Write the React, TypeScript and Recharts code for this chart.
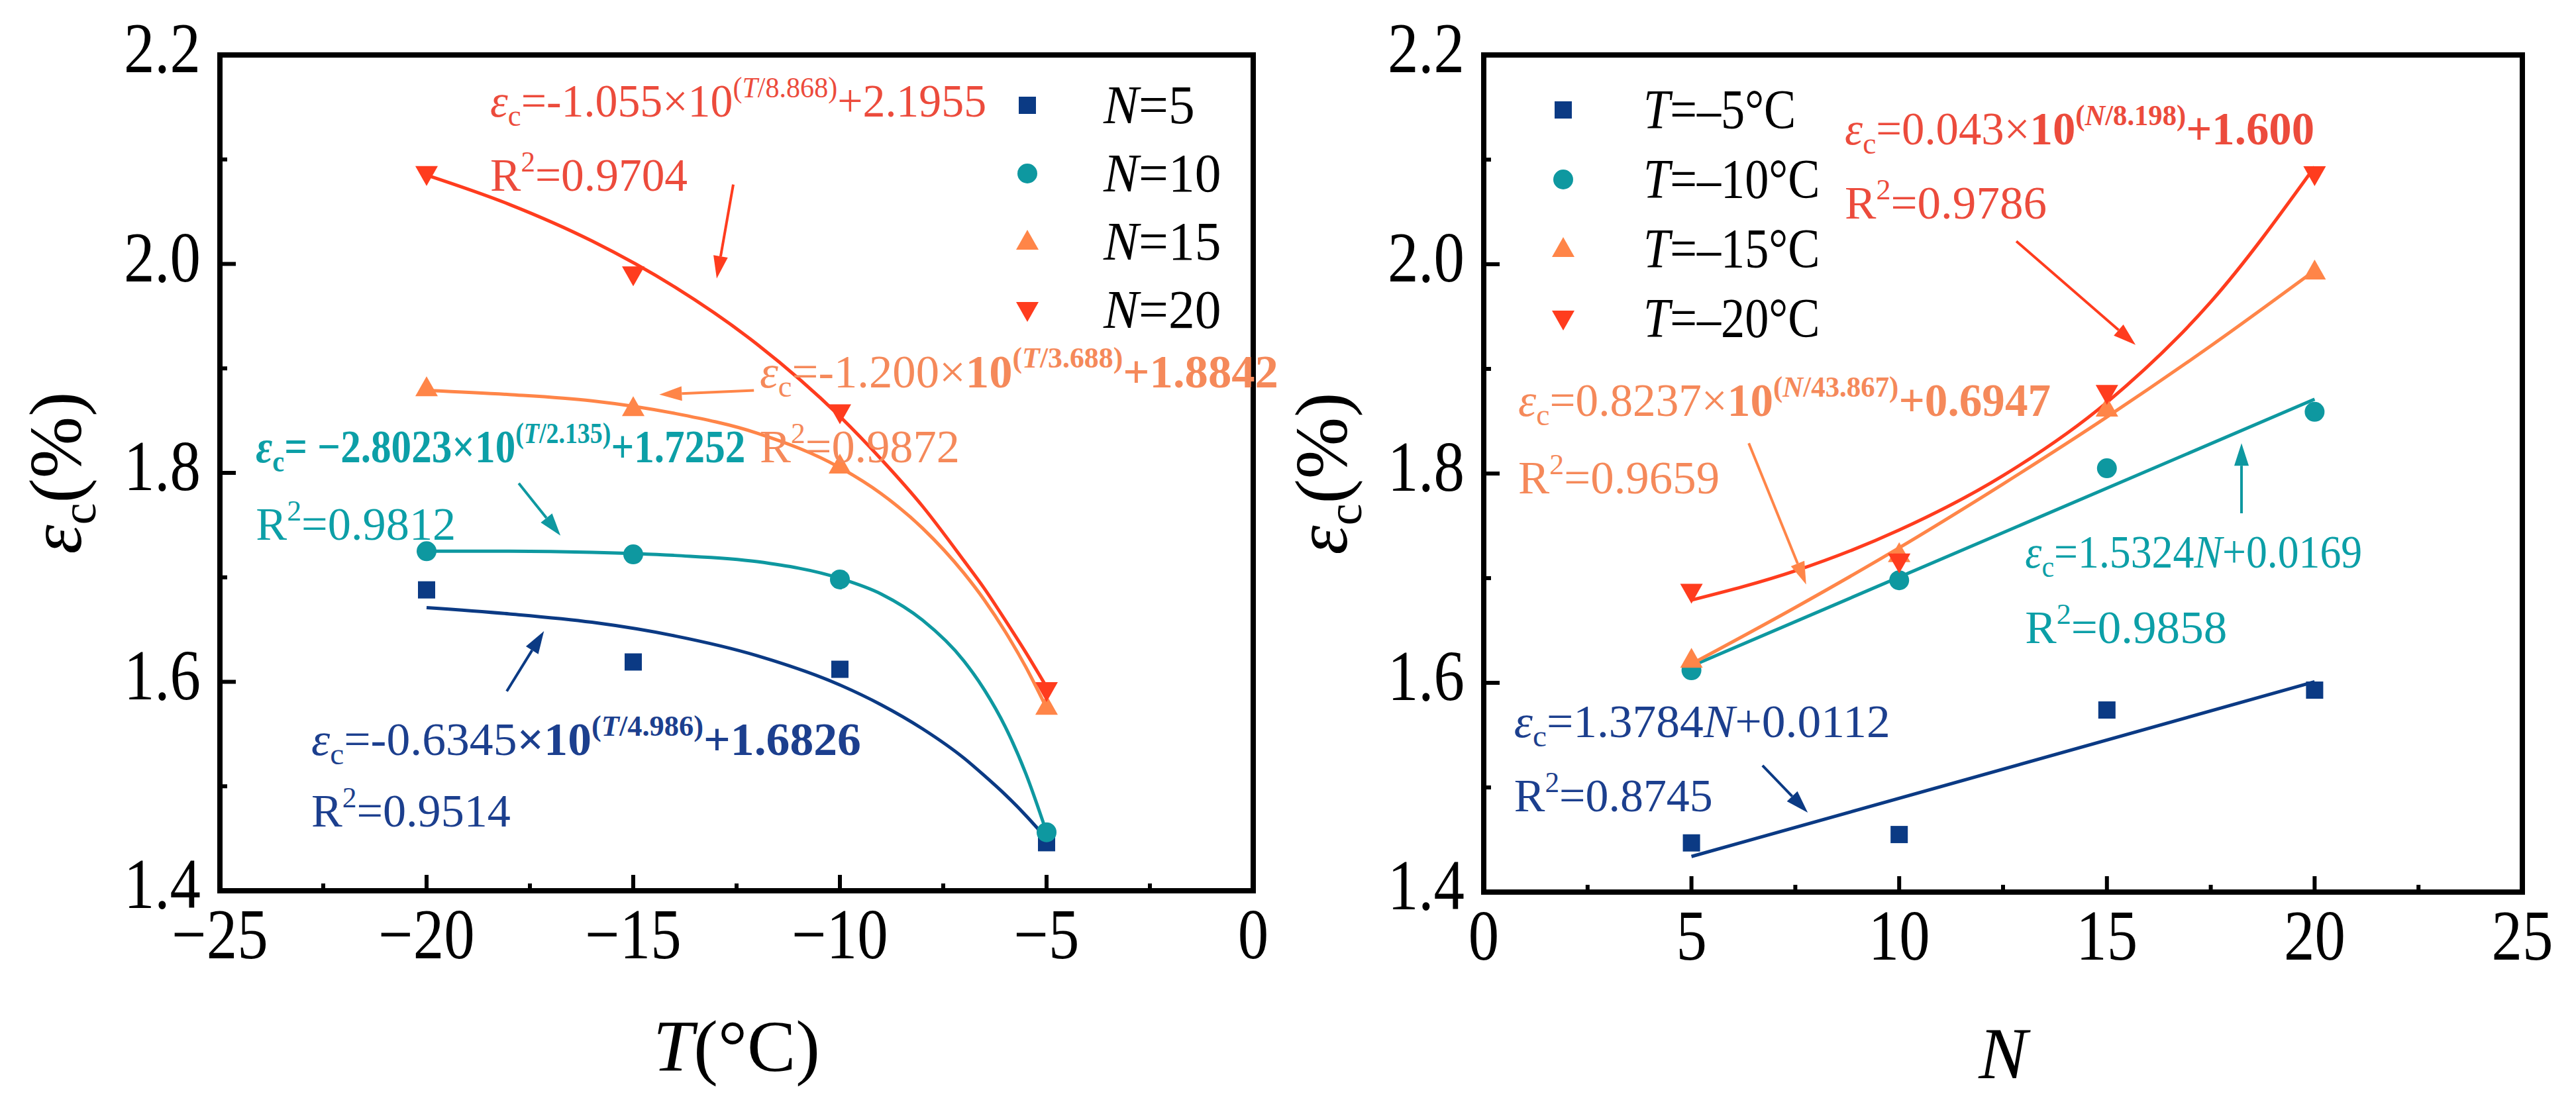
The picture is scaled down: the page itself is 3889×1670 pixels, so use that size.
import React from 'react';
import {
  ComposedChart,
  Line,
  Scatter,
  XAxis,
  YAxis,
  Legend,
  ReferenceArea,
  ReferenceDot,
  ReferenceLine,
} from 'recharts';

const SERIF = '"Liberation Serif", "Times New Roman", serif';

// ---- left panel: strain against temperature, one series per cycle count ----
const tempPoints = [-20, -15, -10, -5];
const strainN5 = [1.688, 1.619, 1.612, 1.446];
const strainN10 = [1.725, 1.722, 1.698, 1.456];
const strainN15 = [1.881, 1.862, 1.807, 1.576];
const strainN20 = [2.086, 1.99, 1.858, 1.592];

// fitted curves
const tempFitGrid = [-20, -18, -16, -14, -12, -10, -9, -8, -7, -6.5, -6, -5.5, -5];
const fitN5 = [1.671, 1.665, 1.657, 1.644, 1.625, 1.597, 1.578, 1.555, 1.527, 1.51, 1.492, 1.472, 1.45];
const fitN10 = [1.725, 1.725, 1.724, 1.721, 1.715, 1.699, 1.684, 1.659, 1.62, 1.592, 1.557, 1.512, 1.456];
const fitN15 = [1.879, 1.875, 1.869, 1.857, 1.838, 1.805, 1.78, 1.747, 1.704, 1.678, 1.648, 1.614, 1.575];
const fitN20 = [2.085, 2.057, 2.022, 1.978, 1.923, 1.854, 1.813, 1.768, 1.716, 1.689, 1.659, 1.628, 1.595];

const tempTicks = [-25, -22.5, -20, -17.5, -15, -12.5, -10, -7.5, -5, -2.5, 0];

// ---- right panel: strain against cycle count, one series per temperature ----
const cyclePoints = [5, 10, 15, 20];
const strainT5 = [1.447, 1.455, 1.574, 1.593];
const strainT10 = [1.612, 1.698, 1.805, 1.859];
const strainT15 = [1.622, 1.723, 1.862, 1.993];
const strainT20 = [1.687, 1.716, 1.877, 2.086];

const cycleLineEnds = [5, 20];
const fitT5 = [1.434, 1.601];
const fitT10 = [1.616, 1.871];
const cycleFitGrid = [5, 7.5, 10, 12.5, 15, 17.5, 20];
const fitT15 = [1.618, 1.672, 1.729, 1.79, 1.854, 1.922, 1.994];
const fitT20 = [1.679, 1.707, 1.746, 1.798, 1.868, 1.964, 2.093];

const cycleTicks = [0, 2.5, 5, 7.5, 10, 12.5, 15, 17.5, 20, 22.5, 25];
const strainTicks = [1.4, 1.5, 1.6, 1.7, 1.8, 1.9, 2.0, 2.1, 2.2];

const leftNames = ['N=5', 'N=10', 'N=15', 'N=20'];
const rightNames = ['T=\u20135\u00b0C', 'T=\u201310\u00b0C', 'T=\u201315\u00b0C', 'T=\u201320\u00b0C'];

const NAVY = '#0b3a84';
const TEAL = '#0e98a0';
const ORANGE = '#ff8548';
const RED = '#ff3c1e';

const TXT_NAVY = '#1c3f8e';
const TXT_TEAL = '#0c9fa7';
const TXT_ORANGE = '#f5895a';
const TXT_RED = '#ec4b3c';

const kinds = ['square', 'circle', 'up', 'down'];
const colors = [NAVY, TEAL, ORANGE, RED];

const toPts = (xs: number[], ys: number[]) => xs.map((x, i) => ({ x, y: ys[i] }));

function Marker({ kind, cx, cy, color }: { kind: string; cx: number; cy: number; color: string }) {
  if (kind === 'square') return <rect x={cx - 13} y={cy - 13} width={26} height={26} fill={color} />;
  if (kind === 'circle') return <circle cx={cx} cy={cy} r={15} fill={color} />;
  if (kind === 'up')
    return <polygon points={`${cx},${cy - 18} ${cx + 17},${cy + 12} ${cx - 17},${cy + 12}`} fill={color} />;
  return <polygon points={`${cx},${cy + 18} ${cx + 17},${cy - 12} ${cx - 17},${cy - 12}`} fill={color} />;
}

type Part = { t: string; pos?: 'sub' | 'sup'; i?: boolean; b?: boolean };
const SHIFT: Record<string, number> = { base: 0, sub: 0.2, sup: -0.42 };
const SCALE: Record<string, number> = { base: 1, sub: 0.66, sup: 0.62 };

function EqText({ x, y, parts, color, width, size = 70 }: any) {
  let prev = 0;
  return (
    <text
      x={x}
      y={y}
      fill={color}
      fontFamily={SERIF}
      fontSize={size}
      textLength={width}
      lengthAdjust="spacingAndGlyphs"
    >
      {parts.map((p: Part, k: number) => {
        const pos = p.pos ?? 'base';
        const shift = SHIFT[pos] * size;
        const dy = shift - prev;
        prev = shift;
        return (
          <tspan
            key={k}
            dy={dy}
            fontSize={size * SCALE[pos]}
            fontStyle={p.i ? 'italic' : 'normal'}
            fontWeight={p.b ? 'bold' : 'normal'}
          >
            {p.t}
          </tspan>
        );
      })}
    </text>
  );
}

function Arrow({ x1, y1, x2, y2, color }: any) {
  const a = Math.atan2(y2 - y1, x2 - x1);
  const L = 34;
  const W = 11;
  const bx = x2 - L * Math.cos(a);
  const by = y2 - L * Math.sin(a);
  const px = -Math.sin(a) * W;
  const py = Math.cos(a) * W;
  return (
    <g>
      <line x1={x1} y1={y1} x2={bx} y2={by} stroke={color} strokeWidth={4} />
      <polygon points={`${x2},${y2} ${bx + px},${by + py} ${bx - px},${by - py}`} fill={color} />
    </g>
  );
}

const epsC = (b = false): Part[] => [
  { t: '\u03b5', i: true, b },
  { t: 'c', pos: 'sub', b },
];
const r2 = (v: string): Part[] => [{ t: 'R' }, { t: '2', pos: 'sup' }, { t: '=' + v }];

const leftNotes = [
  {
    x: -18.46, y: 2.141, w: 749, color: TXT_RED,
    parts: [...epsC(), { t: '=-1.055\u00d710' }, { t: '(', pos: 'sup' }, { t: 'T', pos: 'sup', i: true }, { t: '/8.868)', pos: 'sup' }, { t: '+2.1955' }],
  },
  { x: -18.46, y: 2.07, w: 298, color: TXT_RED, parts: r2('0.9704') },
  {
    x: -11.94, y: 1.882, w: 783, color: TXT_ORANGE,
    parts: [...epsC(), { t: '=-1.200\u00d7' }, { t: '10', b: true }, { t: '(', pos: 'sup', b: true }, { t: 'T', pos: 'sup', i: true, b: true }, { t: '/3.688)', pos: 'sup', b: true }, { t: '+1.8842', b: true }],
  },
  { x: -11.94, y: 1.81, w: 302, color: TXT_ORANGE, parts: r2('0.9872') },
  {
    x: -24.13, y: 1.81, w: 739, color: TXT_TEAL,
    parts: [...epsC(true), { t: '= \u22122.8023\u00d710', b: true }, { t: '(', pos: 'sup', b: true }, { t: 'T', pos: 'sup', i: true, b: true }, { t: '/2.135)', pos: 'sup', b: true }, { t: '+1.7252', b: true }],
  },
  { x: -24.13, y: 1.736, w: 302, color: TXT_TEAL, parts: r2('0.9812') },
  {
    x: -22.79, y: 1.53, w: 830, color: TXT_NAVY,
    parts: [...epsC(), { t: '=-0.6345' }, { t: '\u00d710', b: true }, { t: '(', pos: 'sup', b: true }, { t: 'T', pos: 'sup', i: true, b: true }, { t: '/4.986)', pos: 'sup', b: true }, { t: '+1.6826', b: true }],
  },
  { x: -22.79, y: 1.4615, w: 301, color: TXT_NAVY, parts: r2('0.9514') },
];

const leftArrows = [
  { from: [-12.58, 2.076], to: [-12.98, 1.986], color: RED },
  { from: [-12.08, 1.879], to: [-14.37, 1.875], color: ORANGE },
  { from: [-17.77, 1.79], to: [-16.76, 1.74], color: TEAL },
  { from: [-18.06, 1.591], to: [-17.16, 1.6485], color: NAVY },
];

const rightNotes = [
  {
    x: 8.69, y: 2.1146, w: 709, color: TXT_RED,
    parts: [...epsC(), { t: '=0.043\u00d7' }, { t: '10', b: true }, { t: '(', pos: 'sup', b: true }, { t: 'N', pos: 'sup', i: true, b: true }, { t: '/8.198)', pos: 'sup', b: true }, { t: '+1.600', b: true }],
  },
  { x: 8.69, y: 2.0437, w: 305, color: TXT_RED, parts: r2('0.9786') },
  {
    x: 0.83, y: 1.855, w: 804, color: TXT_ORANGE,
    parts: [...epsC(), { t: '=0.8237\u00d7' }, { t: '10', b: true }, { t: '(', pos: 'sup', b: true }, { t: 'N', pos: 'sup', i: true, b: true }, { t: '/43.867)', pos: 'sup', b: true }, { t: '+0.6947', b: true }],
  },
  { x: 0.83, y: 1.781, w: 304, color: TXT_ORANGE, parts: r2('0.9659') },
  {
    x: 13.03, y: 1.71, w: 509, color: TXT_TEAL,
    parts: [...epsC(), { t: '=1.5324' }, { t: 'N', i: true }, { t: '+0.0169' }],
  },
  { x: 13.03, y: 1.638, w: 305, color: TXT_TEAL, parts: r2('0.9858') },
  {
    x: 0.73, y: 1.548, w: 568, color: TXT_NAVY,
    parts: [...epsC(), { t: '=1.3784' }, { t: 'N', i: true }, { t: '+0.0112' }],
  },
  { x: 0.73, y: 1.477, w: 300, color: TXT_NAVY, parts: r2('0.8745') },
];

const rightArrows = [
  { from: [12.82, 2.022], to: [15.69, 1.923], color: RED },
  { from: [6.38, 1.829], to: [7.76, 1.694], color: ORANGE },
  { from: [18.24, 1.762], to: [18.24, 1.829], color: TEAL },
  { from: [6.71, 1.521], to: [7.8, 1.476], color: NAVY },
];

const fmtTemp = (v: number) => (v === 0 ? '0' : '\u2212' + Math.abs(v));
const fmtCycle = (v: number) => String(v);

// tick labels in the source are set in a slightly condensed Times
const TICK_SQUEEZE = 0.86;

const makeXTick = (fmt: (v: number) => string) => (props: any) => {
  const { x, y, payload } = props;
  const v = payload.value;
  const major = Math.abs(v % 5) < 1e-6;
  return (
    <g>
      <line x1={x} x2={x} y1={y} y2={y - (major ? 24 : 11)} stroke="#000" strokeWidth={6} />
      {major && (
        <text
          transform={`translate(${x},${y + 102}) scale(${TICK_SQUEEZE},1)`}
          textAnchor="middle"
          fontSize={108}
          fontFamily={SERIF}
          fill="#000"
        >
          {fmt(v)}
        </text>
      )}
    </g>
  );
};

const YTick = (props: any) => {
  const { x, y, payload } = props;
  const v = payload.value;
  const major = Math.round(v * 10) % 2 === 0;
  return (
    <g>
      <line x1={x} x2={x + (major ? 24 : 11)} y1={y} y2={y} stroke="#000" strokeWidth={6} />
      {major && (
        <text
          transform={`translate(${x - 29},${y + 26}) scale(${TICK_SQUEEZE},1)`}
          textAnchor="end"
          fontSize={108}
          fontFamily={SERIF}
          fill="#000"
        >
          {v.toFixed(1)}
        </text>
      )}
    </g>
  );
};

const yTitle = (dx: number) => (props: any) => {
  const vb = props.viewBox;
  const cx = vb.x + dx;
  const cy = vb.y + vb.height / 2;
  return (
    <text transform={`translate(${cx},${cy}) rotate(-90)`} textAnchor="middle" fontFamily={SERIF} fontSize={112} fill="#000">
      <tspan fontStyle="italic">{'\u03b5'}</tspan>
      <tspan fontSize={74} dy={22}>c</tspan>
      <tspan dy={-22}>(%)</tspan>
    </text>
  );
};

const xTitle = (kind: 'T' | 'N') => (props: any) => {
  const vb = props.viewBox;
  const cx = vb.x + vb.width / 2;
  return (
    <text x={cx} y={vb.y + (kind === 'T' ? 272 : 281)} textAnchor="middle" fontFamily={SERIF} fontSize={110} fill="#000">
      <tspan fontStyle="italic">{kind}</tspan>
      {kind === 'T' ? <tspan>(°C)</tspan> : null}
    </text>
  );
};

const legendContent = (names: string[], rowH: number, gap: number, size: number, squeeze: number) => (props: any) => {
  const payload = props.payload || [];
  const items = names
    .map((n) => payload.find((e: any) => e.value === n))
    .filter(Boolean);
  return (
    <div style={{ fontFamily: SERIF, width: 'max-content' }}>
      {items.map((e: any, k: number) => {
        const name: string = e.value;
        const [head, tail] = name.split('=');
        const idx = names.indexOf(name);
        return (
          <div key={k} style={{ height: rowH, display: 'flex', alignItems: 'center' }}>
            <svg width={62} height={62} style={{ flexShrink: 0 }}>
              <Marker kind={kinds[idx]} cx={31} cy={31} color={colors[idx]} />
            </svg>
            <span
              style={{
                display: 'inline-block',
                marginLeft: gap,
                fontSize: size,
                lineHeight: 1,
                color: '#000',
                whiteSpace: 'nowrap',
                flexShrink: 0,
                transform: `scaleX(${squeeze})`,
                transformOrigin: 'left center',
              }}
            >
              <i>{head}</i>={tail}
            </span>
          </div>
        );
      })}
    </div>
  );
};

const leftSeries = [
  { pts: strainN5, fit: fitN5 },
  { pts: strainN10, fit: fitN10 },
  { pts: strainN15, fit: fitN15 },
  { pts: strainN20, fit: fitN20 },
];

const rightSeries = [
  { pts: strainT5, fx: cycleLineEnds, fit: fitT5 },
  { pts: strainT10, fx: cycleLineEnds, fit: fitT10 },
  { pts: strainT15, fx: cycleFitGrid, fit: fitT15 },
  { pts: strainT20, fx: cycleFitGrid, fit: fitT20 },
];

function renderNotes(notes: any[], arrows: any[]) {
  const out: React.ReactNode[] = [];
  arrows.forEach((a, k) =>
    out.push(
      <ReferenceLine
        key={'a' + k}
        segment={[{ x: a.from[0], y: a.from[1] }, { x: a.to[0], y: a.to[1] }]}
        ifOverflow="visible"
        shape={(p: any) => <Arrow x1={p.x1} y1={p.y1} x2={p.x2} y2={p.y2} color={a.color} />}
      />
    )
  );
  notes.forEach((n, k) =>
    out.push(
      <ReferenceDot
        key={'n' + k}
        x={n.x}
        y={n.y}
        r={0}
        ifOverflow="visible"
        shape={(p: any) => <EqText x={p.cx} y={p.cy} parts={n.parts} color={n.color} width={n.w} />}
      />
    )
  );
  return out;
}

function LeftPanel() {
  return (
    <ComposedChart width={1930} height={1670} margin={{ top: 83, right: 38, bottom: 125, left: 82 }}>
      <XAxis
        type="number"
        dataKey="x"
        domain={[-25, 0]}
        ticks={tempTicks}
        interval={0}
        tickSize={0}
        tickMargin={0}
        tickLine={false}
        axisLine={false}
        height={200}
        tick={makeXTick(fmtTemp)}
        allowDataOverflow
        label={{ content: xTitle('T') }}
      />
      <YAxis
        type="number"
        dataKey="y"
        domain={[1.4, 2.2]}
        ticks={strainTicks}
        interval={0}
        tickSize={0}
        tickMargin={0}
        tickLine={false}
        axisLine={false}
        width={250}
        tick={YTick}
        allowDataOverflow
        label={{ content: yTitle(40) }}
      />
      <ReferenceArea x1={-25} x2={0} y1={1.4} y2={2.2} fill="none" stroke="#000" strokeWidth={8} ifOverflow="visible" />
      {leftSeries.map((s, k) => (
        <Line
          key={'f' + k}
          data={toPts(tempFitGrid, s.fit)}
          dataKey="y"
          type="monotone"
          stroke={colors[k]}
          strokeWidth={5}
          dot={false}
          legendType="none"
          isAnimationActive={false}
        />
      ))}
      {leftSeries.map((s, k) => (
        <Scatter
          key={'s' + k}
          name={leftNames[k]}
          data={toPts(tempPoints, s.pts)}
          fill={colors[k]}
          shape={(p: any) => <Marker kind={kinds[k]} cx={p.cx} cy={p.cy} color={colors[k]} />}
          isAnimationActive={false}
        />
      ))}
      {renderNotes(leftNotes, leftArrows)}
      <Legend
        layout="vertical"
        align="center"
        verticalAlign="middle"
        wrapperStyle={{ left: 1520, top: 107, width: 380 }}
        content={legendContent(leftNames, 103, 84, 82, 0.97)}
      />
    </ComposedChart>
  );
}

function RightPanel() {
  return (
    <ComposedChart width={1959} height={1670} margin={{ top: 83, right: 81, bottom: 123, left: 60 }}>
      <XAxis
        type="number"
        dataKey="x"
        domain={[0, 25]}
        ticks={cycleTicks}
        interval={0}
        tickSize={0}
        tickMargin={0}
        tickLine={false}
        axisLine={false}
        height={200}
        tick={makeXTick(fmtCycle)}
        allowDataOverflow
        label={{ content: xTitle('N') }}
      />
      <YAxis
        type="number"
        dataKey="y"
        domain={[1.4, 2.2]}
        ticks={strainTicks}
        interval={0}
        tickSize={0}
        tickMargin={0}
        tickLine={false}
        axisLine={false}
        width={250}
        tick={YTick}
        allowDataOverflow
        label={{ content: yTitle(43) }}
      />
      <ReferenceArea x1={0} x2={25} y1={1.4} y2={2.2} fill="none" stroke="#000" strokeWidth={8} ifOverflow="visible" />
      {rightSeries.map((s, k) => (
        <Line
          key={'f' + k}
          data={toPts(s.fx, s.fit)}
          dataKey="y"
          type="monotone"
          stroke={colors[k]}
          strokeWidth={5}
          dot={false}
          legendType="none"
          isAnimationActive={false}
        />
      ))}
      {rightSeries.map((s, k) => (
        <Scatter
          key={'s' + k}
          name={rightNames[k]}
          data={toPts(cyclePoints, s.pts)}
          fill={colors[k]}
          shape={(p: any) => <Marker kind={kinds[k]} cx={p.cx} cy={p.cy} color={colors[k]} />}
          isAnimationActive={false}
        />
      ))}
      {renderNotes(rightNotes, rightArrows)}
      <Legend
        layout="vertical"
        align="center"
        verticalAlign="middle"
        wrapperStyle={{ left: 399, top: 113, width: 440 }}
        content={legendContent(rightNames, 105, 90, 84, 0.86)}
      />
    </ComposedChart>
  );
}

export default function App() {
  return (
    <div
      style={{
        position: 'absolute',
        left: 0,
        top: 0,
        width: 3889,
        height: 1670,
        background: '#fff',
        display: 'flex',
      }}
    >
      <LeftPanel />
      <RightPanel />
    </div>
  );
}
